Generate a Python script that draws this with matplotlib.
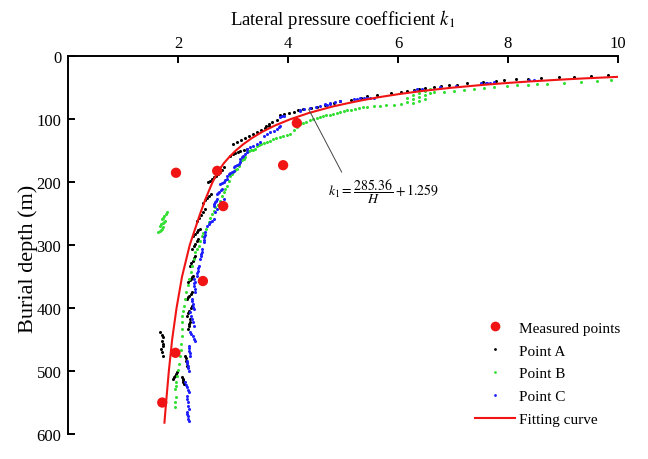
import matplotlib
matplotlib.use("Agg")
import matplotlib.pyplot as plt
from matplotlib.lines import Line2D

# ---------------- data ----------------
# Fitting curve (burial depth H in m, lateral pressure coefficient k1)
fit_H = [32.7, 35, 37, 40, 42, 45, 50, 55, 60, 65, 70, 75, 80, 90, 100, 110, 120,
         130, 140, 150, 160, 170, 180, 190, 200, 225, 250, 300, 350, 400, 450, 500, 550, 582]
fit_k = [9.99, 9.41, 8.97, 8.39, 8.05, 7.60, 6.97, 6.45, 6.02, 5.65, 5.34, 5.06, 4.80,
         4.38, 4.04, 3.76, 3.53, 3.34, 3.18, 3.045, 2.93, 2.83, 2.75, 2.685, 2.625, 2.505,
         2.40, 2.21, 2.07, 1.97, 1.89, 1.83, 1.78, 1.75]

# Measured points
meas_k = [1.96, 2.71, 3.91, 4.16, 2.82, 2.45, 1.95, 1.71]
meas_H = [185, 182, 173, 106, 238, 357, 471, 550]

# Point A (black)
a_k = [9.82, 9.51, 9.21, 8.93, 8.60, 8.36, 8.14, 7.93, 7.78, 7.54, 7.26, 7.08, 6.93, 6.78,
       6.65, 6.50, 6.38, 6.29,
       6.17, 6.05, 5.87, 5.62, 5.44, 5.32, 5.14, 4.95, 4.83, 4.68, 4.53, 4.41, 4.28, 4.19,
       4.10, 4.01, 3.92, 3.86,
       3.80, 3.71, 3.65, 3.59,
       3.65, 3.587, 3.514, 3.441, 3.368, 3.295, 3.222, 3.149, 3.076, 3.003,
       2.948, 2.994, 3.040, 3.085, 3.131, 3.19, 3.25,
       2.547, 2.583, 2.620, 2.656, 2.693, 2.73, 2.766, 2.80, 2.83,
       2.456, 2.492, 2.529, 2.565, 2.602,
       2.347, 2.383, 2.419, 2.455, 2.492,
       2.273, 2.305, 2.337, 2.369, 2.401,
       2.255, 2.282, 2.310, 2.337, 2.365,
       2.219, 2.241, 2.264, 2.287, 2.310,
       2.182, 2.210, 2.237, 2.255, 2.273,
       2.164, 2.182, 2.201, 2.228, 2.255,
       2.164, 2.182, 2.201, 2.228, 2.255,
       2.182, 2.192, 2.201, 2.210, 2.219,
       1.672, 1.697, 1.721, 1.703, 1.718, 1.732, 1.685, 1.703, 1.721,
       2.128, 2.137, 2.146, 2.155, 2.164,
       1.909, 1.927, 1.945, 1.964, 1.982,
       2.073, 2.080, 2.086, 2.092, 2.097]
a_H = [29.2, 30.8, 32.4, 33.4, 34.5, 35.6, 36.5, 37.6, 38.8, 40.3, 42.9, 45.1, 46.1, 47.7,
       49.2, 50.8, 51.9, 53.5,
       55.0, 56.5, 58.5, 61.0, 63.5, 66.0, 68.9, 71.8, 74.2, 77.4, 80.0, 82.0, 84.0, 86.0,
       87.7, 89.3, 91.0, 93.2,
       101.5, 104.4, 107.5, 110.7,
       110.0, 114.0, 117.5, 121.0, 124.2, 126.6, 129.8, 133.0, 136.1, 139.3,
       157.9, 155.7, 153.6, 151.8, 150.0, 148.6, 147.3,
       199.7, 197.3, 194.9, 192.5, 190.2, 187.0, 183.8, 180.0, 176.3,
       233.0, 229.0, 225.1, 221.9, 218.7,
       261.6, 256.8, 252.1, 247.3, 242.6,
       285.5, 282.3, 279.1, 276.7, 274.4,
       306.1, 302.1, 298.2, 294.2, 290.2,
       333.1, 329.1, 325.2, 321.2, 317.2,
       358.5, 356.1, 353.7, 351.3, 349.0,
       385.5, 383.1, 380.8, 377.6, 374.4,
       412.5, 408.5, 404.6, 400.6, 396.7,
       433.2, 429.2, 425.3, 421.3, 417.3,
       438.1, 442.0, 446.0, 452.3, 456.3, 460.3, 465.0, 470.5, 476.1,
       476.1, 480.0, 484.0, 488.0, 492.0,
       512.6, 509.8, 507.1, 504.3, 501.5,
       509.5, 512.2, 515.0, 517.8, 520.6]

# Point B (green)
b_k = [9.88, 9.63, 9.33, 9.02, 8.72, 8.54, 8.36, 8.17, 7.99, 7.75, 7.57, 7.38, 7.20, 7.02,
       6.84, 6.65,
       6.59, 6.59, 6.49, 6.49, 6.49, 6.38, 6.38, 6.38, 6.27, 6.27, 6.27, 6.16, 6.16,
       6.05, 5.92, 5.79, 5.68, 5.56, 5.43,
       5.373, 5.30, 5.227, 5.15, 5.081, 5.02, 4.953, 4.89, 4.826, 4.76, 4.698, 4.64, 4.589,
       4.52, 4.461, 4.40, 4.334, 4.28, 4.224,
       4.16, 4.10, 4.04, 3.98, 3.914, 3.85, 3.787, 3.73, 3.677, 3.617, 3.56, 3.513, 3.47,
       3.435, 3.404, 3.37, 3.331, 3.29, 3.252, 3.222, 3.19, 3.167, 3.130, 3.10, 3.070,
       3.04, 3.003, 2.975, 2.948, 2.92, 2.888, 2.86, 2.826, 2.80, 2.766, 2.720, 2.675,
       2.65, 2.620, 2.585, 2.552, 2.51, 2.46, 2.43, 2.40, 2.37, 2.34, 2.31, 2.285, 2.255,
       2.23, 2.20, 2.17, 2.145, 2.12, 2.097, 2.08, 2.067, 2.07, 2.073, 2.067, 2.055,
       2.045, 2.036, 2.009, 1.99, 1.976, 1.964, 1.955, 1.945, 1.954, 1.95, 1.945,
       1.703, 1.724, 1.745, 1.77, 1.794, 1.672, 1.695, 1.717, 1.74, 1.763,
       1.641, 1.665, 1.690, 1.71, 1.732]
b_H = [37.2, 38.8, 40.3, 41.9, 43.5, 44.0, 45.1, 46.1, 47.7, 48.8, 50.4, 51.9, 53.5, 54.6,
       56.2, 57.2,
       51.9, 58.3, 55.1, 61.5, 67.8, 58.3, 64.7, 71.0, 61.5, 67.8, 74.2, 66.2, 72.6,
       75.8, 76.6, 77.4, 78.2, 79.7, 80.5,
       81.0, 82.3, 83.7, 84.9, 86.1, 87.3, 88.5, 90.1, 91.7, 92.8, 94.0, 95.5, 96.9,
       98.2, 99.6, 101.6, 103.6, 105.5, 107.5,
       113.0, 117.0, 123.4, 125.0, 126.6, 128.2, 129.8, 131.8, 133.8, 136.6, 138.4, 140.1, 141.0,
       142.0, 147.3, 148.4, 149.6, 151.0, 152.5, 160.4, 162.5, 164.7, 168.4, 173.7, 179.0,
       181.4, 183.8, 186.7, 189.7, 197.5, 205.6, 210.8, 216.0, 222.7, 229.4, 236.2, 239.9,
       245.2, 250.5, 257.1, 263.7, 274.4, 280.0, 285.0, 293.0, 301.0, 306.0, 311.4, 322.0, 333.0,
       343.0, 354.0, 364.0, 375.0, 385.5, 396.0, 404.0, 412.1, 422.7, 433.3, 443.8, 457.0,
       466.3, 475.6, 488.8, 498.0, 507.4, 517.4, 523.0, 528.5, 541.2, 549.4, 557.6,
       258.5, 256.1, 253.7, 250.8, 247.8, 269.1, 267.0, 264.8, 263.0, 261.2,
       279.6, 277.8, 275.9, 273.8, 271.6]

# Point C (blue)
c_k = [8.47, 8.38, 7.74, 7.68, 7.63, 7.60, 7.52, 7.05, 6.77, 6.44, 6.35, 6.29,
       5.561, 5.50, 5.440, 5.38, 5.318, 5.26, 5.196,
       4.953, 4.86, 4.771, 4.771, 4.711, 4.68, 4.589, 4.50, 4.406, 4.284, 4.224, 4.224,
       3.920, 3.89, 3.860,
       3.860, 3.830, 3.800, 3.74, 3.677, 3.62, 3.555, 3.495, 3.43, 3.367, 3.31, 3.252,
       3.252, 3.22, 3.185, 3.16, 3.130, 3.130, 3.10, 3.070, 3.04, 3.008, 3.008, 2.978,
       2.948, 2.918, 2.888, 2.888, 2.857, 2.826, 2.796, 2.766, 2.797, 2.772, 2.747, 2.726,
       2.706, 2.826, 2.786, 2.747, 2.711, 2.675, 2.706, 2.690, 2.675, 2.66, 2.644,
       2.644, 2.613, 2.583, 2.553, 2.523, 2.492, 2.483, 2.474, 2.467, 2.461,
       2.432, 2.425, 2.419, 2.410, 2.401, 2.370, 2.362, 2.355, 2.348, 2.341, 2.310,
       2.279, 2.286, 2.292, 2.301, 2.310, 2.250, 2.257, 2.264, 2.271, 2.279,
       2.219, 2.235, 2.250, 2.265, 2.279, 2.219, 2.242, 2.264, 2.287, 2.310,
       2.188, 2.195, 2.201, 2.210, 2.219, 2.159, 2.166, 2.173, 2.180, 2.188,
       2.128, 2.144, 2.159, 2.173, 2.188, 2.159, 2.166, 2.173, 2.180, 2.188,
       2.159, 2.166, 2.173, 2.180, 2.188]
c_H = [37.2, 37.6, 41.6, 42.0, 42.4, 42.8, 43.2, 46.7, 48.8, 51.2, 52.0, 54.6,
       65.8, 66.0, 66.2, 66.5, 66.7, 67.2, 67.8,
       70.5, 72.3, 74.2, 75.8, 76.9, 76.2, 78.2, 80.5, 82.9, 83.7, 84.8, 86.4,
       94.4, 95.6, 96.9,
       110.2, 112.8, 115.5, 117.9, 120.3, 123.2, 126.1, 136.6, 139.2, 141.7, 144.5, 147.3,
       152.5, 155.5, 158.4, 160.7, 163.1, 168.4, 170.5, 172.7, 174.5, 176.3, 181.7, 183.5,
       185.4, 187.5, 189.7, 194.9, 196.9, 198.9, 200.9, 202.9, 210.8, 212.8, 214.8, 216.7,
       218.7, 226.7, 231.8, 237.0, 242.4, 247.8, 226.7, 229.3, 231.9, 234.6, 237.3,
       258.5, 261.1, 263.7, 266.4, 269.1, 279.6, 283.4, 287.1, 291.3, 295.5,
       306.1, 310.1, 314.1, 318.0, 322.0, 332.6, 336.6, 340.6, 344.6, 348.5, 359.0,
       353.8, 359.4, 364.9, 369.9, 374.9, 385.5, 389.5, 393.5, 397.5, 401.4,
       406.7, 412.0, 417.3, 422.6, 428.0, 438.5, 441.8, 445.1, 448.5, 451.8,
       459.7, 463.7, 467.7, 471.6, 475.6, 483.6, 487.6, 491.5, 495.5, 499.4,
       517.9, 521.9, 525.8, 529.8, 533.8, 539.2, 544.4, 549.6, 555.0, 560.3,
       565.5, 568.9, 572.2, 575.6, 578.9]

x_ticks = [2, 4, 6, 8, 10]
y_ticks = [0, 100, 200, 300, 400, 500, 600]

# ---------------- style ----------------
plt.rcParams['font.family'] = ['Liberation Serif', 'DejaVu Serif']
plt.rcParams['mathtext.fontset'] = 'stix'

RED = '#f01414'
BLACK = '#000000'
GREEN = '#33e033'
BLUE = '#1e1eff'

fig = plt.figure(figsize=(6.48, 4.60), dpi=100)
ax = fig.add_axes([68.3 / 648, 1 - 435 / 460, (617.7 - 68.3) / 648, (435 - 57.3) / 460])

ms = 2.2
ax.plot(a_k, a_H, linestyle='none', marker='o', markersize=ms, markeredgewidth=0,
        color=BLACK, zorder=2)
ax.plot(b_k, b_H, linestyle='none', marker='o', markersize=ms, markeredgewidth=0,
        color=GREEN, zorder=2)
ax.plot(c_k, c_H, linestyle='none', marker='o', markersize=ms, markeredgewidth=0,
        color=BLUE, zorder=2)
ax.plot(fit_k, fit_H, color=RED, linewidth=1.5, zorder=3)
ax.scatter(meas_k, meas_H, s=55, color=RED, edgecolors='none', zorder=4)

ax.set_xlim(0, 10)
ax.set_ylim(600, 0)
ax.set_xticks(x_ticks)
ax.set_yticks(y_ticks)
ax.xaxis.tick_top()
ax.xaxis.set_label_position('top')
for s in ['right', 'bottom']:
    ax.spines[s].set_visible(False)
for s in ['top', 'left']:
    ax.spines[s].set_linewidth(1.4)
ax.tick_params(axis='both', direction='in', length=5, width=1.4, labelsize=12)
ax.tick_params(axis='x', pad=4)
ax.tick_params(axis='y', pad=5)

ax.set_xlabel('Lateral pressure coefficient $k_1$', fontsize=13.5, labelpad=8)
ax.set_ylabel('Burial depth (m)', fontsize=16)
ax.yaxis.set_label_coords(-0.056, 0.466)

# equation annotation
ax.annotate('', xy=(4.35, 80), xytext=(5.0, 188),
            arrowprops=dict(arrowstyle='-', color='#444444', lw=0.7))
ax.text(4.72, 213, r'$k_1=\dfrac{285.36}{H}+1.259$', fontsize=10, ha='left', va='center')

handles = [
    Line2D([], [], linestyle='none', marker='o', markersize=7, color=RED, markeredgewidth=0),
    Line2D([], [], linestyle='none', marker='o', markersize=2, color=BLACK, markeredgewidth=0),
    Line2D([], [], linestyle='none', marker='o', markersize=2, color=GREEN, markeredgewidth=0),
    Line2D([], [], linestyle='none', marker='o', markersize=2, color=BLUE, markeredgewidth=0),
    Line2D([], [], color=RED, linewidth=1.5),
]
labels = ['Measured points', 'Point A', 'Point B', 'Point C', 'Fitting curve']
fig.legend(handles, labels, loc='upper left', bbox_to_anchor=(475 / 648, 1 - 322 / 460),
           frameon=False, fontsize=11, handlelength=2.6, handletextpad=0.3,
           labelspacing=0.6, borderpad=0, borderaxespad=0)

fig.savefig('out.png', dpi=100)
